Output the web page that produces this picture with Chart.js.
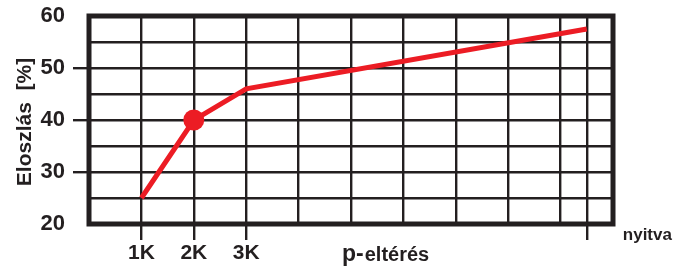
<!DOCTYPE html>
<html>
<head>
<meta charset="utf-8">
<script src="https://cdn.jsdelivr.net/npm/chart.js@4.4.1/dist/chart.umd.min.js"></script>
<style>
  html, body { margin: 0; padding: 0; background: #fff; }
  #wrap { width: 676px; height: 268px; position: relative; }
</style>
</head>
<body>
<div id="wrap"><canvas id="c" width="676" height="268"></canvas></div>
<script>
// ---- data ----
const xPositions = [1, 2, 3, 9.5];          // 1K, 2K, 3K, nyitva (grid units)
const values = [25, 40, 46, 57.5];          // Eloszlás [%]
const tickLabels = ['1K', '2K', '3K'];      // labels for positions 1,2,3
const markedIndex = 1;                      // the big dot (2K)
const yTickLabels = [20, 30, 40, 50, 60];
const yTitle = 'Eloszlás  [%]';
const xTitlePrefix = 'p-';
const xTitleRest = 'eltérés';
const openLabel = 'nyitva';

const INK = '#231f20';
const RED = '#ec1c24';
const FONT = "'Liberation Sans', Arial, sans-serif";

const decor = {
  id: 'decor',
  beforeDatasetsDraw(chart) {
    const { ctx, chartArea: a } = chart;
    ctx.save();
    ctx.strokeStyle = INK;
    ctx.lineWidth = 5;
    ctx.strokeRect(a.left, a.top, a.right - a.left, a.bottom - a.top);
    ctx.restore();
  },
  afterDraw(chart) {
    const { ctx, chartArea: a } = chart;
    const xs = chart.scales.x;
    ctx.save();
    ctx.fillStyle = INK;
    // y title
    ctx.save();
    ctx.translate(31, (a.top + a.bottom) / 2 + 2);
    ctx.rotate(-Math.PI / 2);
    ctx.font = 'bold 21px ' + FONT;
    ctx.textAlign = 'center';
    ctx.textBaseline = 'alphabetic';
    ctx.fillText(yTitle, 0, 0);
    ctx.restore();
    // x title
    ctx.textAlign = 'left';
    ctx.textBaseline = 'alphabetic';
    ctx.font = 'bold 23px ' + FONT;
    const x0 = 342;
    ctx.fillText(xTitlePrefix, x0, 261);
    const w = ctx.measureText(xTitlePrefix).width;
    ctx.font = 'bold 20px ' + FONT;
    ctx.fillText(xTitleRest, x0 + w + 1, 261);
    // nyitva
    ctx.font = 'bold 17px ' + FONT;
    ctx.fillText(openLabel, xs.getPixelForValue(xPositions[3]) + 36, 240);
    ctx.restore();
  }
};

new Chart(document.getElementById('c'), {
  type: 'line',
  data: {
    datasets: [{
      data: xPositions.map((x, i) => ({ x, y: values[i] })),
      borderColor: RED,
      backgroundColor: RED,
      borderWidth: 5,
      pointRadius: ctx => ctx.dataIndex === markedIndex ? 10.5 : 0,
      pointBorderWidth: 0,
      pointHoverRadius: 0,
      tension: 0,
      fill: false,
      borderCapStyle: 'butt',
      borderJoinStyle: 'miter'
    }]
  },
  options: {
    responsive: false,
    animation: false,
    events: [],
    layout: { padding: { left: 0, top: 16, right: 63, bottom: 0 } },
    plugins: { legend: { display: false }, tooltip: { enabled: false } },
    scales: {
      x: {
        type: 'linear',
        min: 0, max: 10,
        afterBuildTicks(scale) {
          const t = [];
          for (let v = 0; v <= 10; v++) t.push({ value: v });
          t.splice(10, 0, { value: xPositions[3] });
          scale.ticks = t;
        },
        afterFit(scale) { scale.height = 44; scale.paddingLeft = 0; scale.paddingRight = 0; },
        border: { display: false },
        grid: {
          color: INK,
          lineWidth: 2.4,
          drawTicks: true,
          tickLength: 16,
          tickWidth: 2.4,
          tickColor: ctx => {
            const v = ctx.tick && ctx.tick.value;
            return (v === 1 || v === 2 || v === 3 || v === xPositions[3]) ? INK : 'rgba(0,0,0,0)';
          }
        },
        ticks: {
          autoSkip: false,
          maxRotation: 0,
          padding: 1,
          color: INK,
          font: { family: FONT, size: 21, weight: 'bold' },
          callback: v => (v >= 1 && v <= 3 && Number.isInteger(v)) ? tickLabels[v - 1] : ''
        }
      },
      y: {
        type: 'linear',
        min: 20, max: 60,
        afterBuildTicks(scale) {
          const t = [];
          for (let v = 20; v <= 60; v += 5) t.push({ value: v });
          scale.ticks = t;
        },
        afterFit(scale) { scale.width = 89; scale.paddingTop = 0; scale.paddingBottom = 0; },
        border: { display: false },
        grid: {
          color: INK,
          lineWidth: 2.4,
          drawTicks: true,
          tickLength: 16,
          tickWidth: 2.4,
          tickColor: ctx => {
            const v = ctx.tick && ctx.tick.value;
            return (v === 30 || v === 40 || v === 50) ? INK : 'rgba(0,0,0,0)';
          }
        },
        ticks: {
          autoSkip: false,
          padding: 8,
          color: INK,
          font: { family: FONT, size: 22, weight: 'bold' },
          callback: v => yTickLabels.includes(v) ? String(v) : ''
        }
      }
    }
  },
  plugins: [decor]
});
</script>
</body>
</html>
